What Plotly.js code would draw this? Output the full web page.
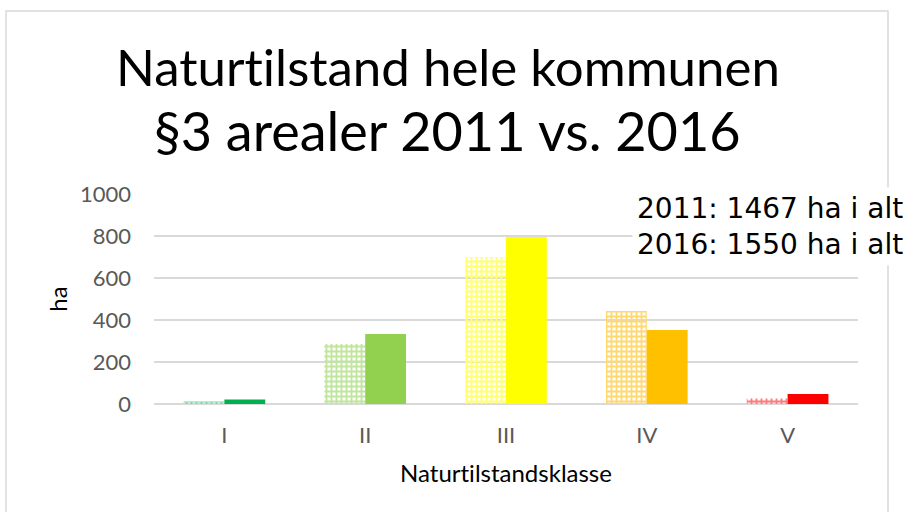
<!DOCTYPE html>
<html><head><meta charset="utf-8">
<script src="https://cdn.plot.ly/plotly-3.0.1.min.js"></script>
<style>html,body{margin:0;padding:0;background:#fff}#c{width:908px;height:512px}text{font-variant-ligatures:none;font-feature-settings:"liga" 0}</style>
</head><body><div id="c"></div>
<script>
const categories = ["I", "II", "III", "IV", "V"];
const values2011 = [12, 286, 700, 443, 26];
const values2016 = [22, 333, 795, 352, 48];
const colors = ["#00b050", "#92d050", "#ffff00", "#ffc000", "#ff0000"];
const lightColors = ["#7fd7a7", "#c0e59c", "#ffff70", "#ffd870", "#ff7a7a"];
const tickVals = [0, 200, 400, 600, 800, 1000];
const titleLine1 = "Naturtilstand hele kommunen";
const titleLine2 = "§3 arealer 2011 vs. 2016";
const totalsText = "2011: 1467 ha i alt<br>2016: 1550 ha i alt";

const L = 154, R = 50, T = 194, B = 108, W = 908, H = 512;
const pw = W - L - R, ph = H - T - B;
const px = x => (x - L) / pw;
const py = y => (H - B - y) / ph;

const traces = [
  {type: "bar", name: "2011", x: categories, y: values2011,
   marker: {color: lightColors, pattern: {shape: "+", fgcolor: lightColors, bgcolor: "#ffffff", size: 5, solidity: 0.6, fillmode: "replace"}},
   hoverinfo: "skip"},
  {type: "bar", name: "2016", x: categories, y: values2016,
   marker: {color: colors}, hoverinfo: "skip"}
];

const layout = {
  width: W, height: H,
  margin: {l: L, r: R, t: T, b: B, pad: 0},
  paper_bgcolor: "#ffffff", plot_bgcolor: "#ffffff",
  showlegend: false,
  barmode: "group", bargap: 0.42, bargroupgap: 0,
  font: {family: "Lato, sans-serif", color: "#595959"},
  title: {text: titleLine1,
          font: {family: "Lato, sans-serif", size: 51, color: "#000000"},
          xref: "container", x: 448 / W, xanchor: "center", yref: "container", y: 1 - 68 / H, yanchor: "middle"},
  xaxis: {showgrid: false, zeroline: false, showline: false, ticks: "",
          tickfont: {size: 22, color: "#595959"}, ticklabelstandoff: 16,
          title: {text: "Naturtilstandsklasse", font: {size: 24, color: "#000000"}, standoff: 18}},
  yaxis: {range: [0, 1000], tickvals: tickVals, showgrid: true, gridcolor: "#d9d9d9", gridwidth: 1.5,
          zeroline: true, zerolinecolor: "#d9d9d9", zerolinewidth: 1.5, showline: false, ticks: "",
          tickfont: {size: 22, color: "#595959"}, ticklabelstandoff: 22,
          title: {text: "ha", font: {size: 24, color: "#000000"}, standoff: 5}},
  shapes: [
    {type: "rect", xref: "paper", yref: "paper", x0: px(6), x1: px(888), y0: py(11), y1: py(530),
     line: {color: "#d9d9d9", width: 1.5}, fillcolor: "rgba(0,0,0,0)", layer: "below"}
  ],
  annotations: [
    {xref: "paper", yref: "paper", x: px(447), y: py(130), xanchor: "center", yanchor: "middle",
     text: titleLine2, showarrow: false,
     font: {family: "Lato, sans-serif", size: 54, color: "#000000"}},
    {xref: "paper", yref: "paper", x: px(632), y: py(226), xanchor: "left", yanchor: "middle",
     text: totalsText, align: "left", showarrow: false,
     font: {family: "DejaVu Sans, sans-serif", size: 28, color: "#000000"},
     bgcolor: "#ffffff", borderpad: 4, width: 300}
  ]
};

Plotly.newPlot("c", traces, layout, {displayModeBar: false, staticPlot: true});
</script></body></html>
